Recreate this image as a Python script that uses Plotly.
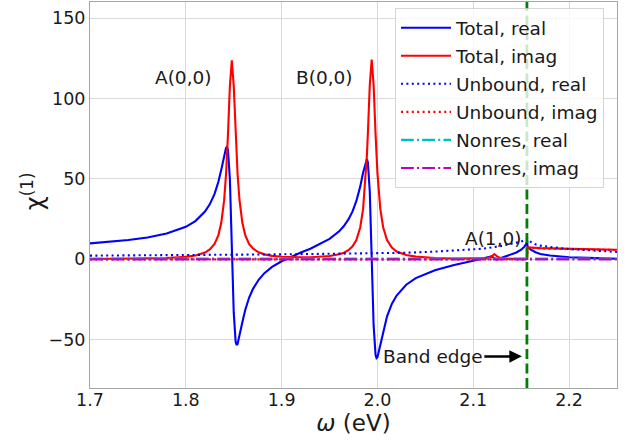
import plotly.graph_objects as go

# ---------------- data ----------------
omega = [1.700, 1.720, 1.740, 1.760, 1.780, 1.800, 1.810, 1.820, 1.825, 1.830,
         1.834, 1.837, 1.840, 1.842, 1.843, 1.844, 1.846, 1.848, 1.850, 1.852,
         1.853, 1.854, 1.856, 1.859, 1.862, 1.866, 1.870, 1.876, 1.882, 1.890,
         1.900, 1.910, 1.920, 1.930, 1.940, 1.950, 1.960, 1.965, 1.970, 1.974,
         1.978, 1.982, 1.985, 1.988, 1.989, 1.990, 1.992, 1.994, 1.996, 1.998,
         1.999, 2.000, 2.003, 2.006, 2.010, 2.015, 2.020, 2.030, 2.040, 2.060,
         2.080, 2.100, 2.110, 2.115, 2.119, 2.122, 2.125, 2.129, 2.135, 2.140,
         2.145, 2.150, 2.153, 2.1555, 2.1562, 2.1566, 2.160, 2.165, 2.170, 2.180,
         2.190, 2.200, 2.220, 2.250]

total_real = [9.9, 10.8, 12.0, 13.6, 16.0, 20.2, 23.8, 29.7, 34.2, 40.7,
              48.2, 55.7, 64.5, 69.3, 69.9, 67.9, 49.7, 8.3, -33.0, -51.3,
              -53.3, -52.6, -47.9, -39.1, -31.5, -23.9, -18.5, -12.7, -8.6, -4.7,
              -1.2, 1.6, 4.2, 6.6, 9.4, 12.7, 17.4, 20.7, 25.1, 29.8,
              36.3, 45.2, 53.8, 61.6, 62.3, 60.3, 42.0, 0.4, -41.1, -59.4,
              -61.4, -60.8, -53.0, -44.4, -35.4, -27.7, -22.5, -15.8, -11.7, -6.8,
              -3.5, -0.9, 0.3, 1.1, 1.8, 0.8, -0.2, 0.8, 2.2, 3.3,
              4.3, 6.0, 7.6, 9.8, 11.8, 8.0, 6.0, 4.4, 3.3, 2.4,
              1.7, 1.3, 0.9, 0.4]

total_imag = [0.19, 0.25, 0.34, 0.49, 0.79, 1.52, 2.37, 4.23, 6.12, 9.63,
              15.1, 22.7, 36.8, 53.1, 64.4, 77.8, 107.8, 123.7, 107.9, 77.8,
              64.4, 53.2, 36.9, 22.7, 15.1, 9.6, 6.75, 4.36, 3.09, 2.17,
              1.60, 1.34, 1.25, 1.31, 1.53, 2.03, 3.10, 4.11, 5.79, 8.07,
              12.05, 19.8, 31.2, 53.4, 64.7, 78.2, 108.4, 124.2, 108.4, 78.2,
              64.7, 53.4, 31.2, 19.8, 12.0, 7.29, 4.89, 2.64, 1.66, 0.84,
              0.52, 0.40, 0.47, 0.75, 1.77, 3.27, 1.77, 0.72, 0.38, 0.30,
              0.28, 0.27, 0.26, 0.26, 0.26, 7.5, 7.3, 7.15, 7.0, 6.8,
              6.65, 6.5, 6.3, 6.0]

unbound_real_x = [1.70, 1.75, 1.80, 1.85, 1.90, 1.95, 2.00, 2.03, 2.06, 2.09,
                  2.11, 2.13, 2.14, 2.15, 2.153, 2.1555, 2.1565, 2.16, 2.165, 2.17,
                  2.18, 2.19, 2.20, 2.22, 2.25]
unbound_real = [2.3, 2.4, 2.6, 2.85, 3.1, 3.45, 3.8, 4.1, 4.8, 5.7,
                6.6, 8.4, 9.6, 11.0, 11.8, 12.6, 13.0, 10.8, 9.3, 8.5,
                7.6, 7.0, 6.4, 5.5, 4.6]

unbound_imag_x = [1.70, 2.1562, 2.1566, 2.16, 2.17, 2.18, 2.20, 2.22, 2.25]
unbound_imag = [0.0, 0.0, 7.2, 7.0, 6.8, 6.6, 6.3, 6.1, 5.8]

nonres_x = [1.70, 2.25]
nonres_real = [0.5, 0.5]
nonres_imag = [0.0, 0.0]

band_edge = 2.156

x_ticks = [1.7, 1.8, 1.9, 2.0, 2.1, 2.2]
y_ticks = [-50, 0, 50, 100, 150]

peak_labels = ["A(0,0)", "B(0,0)", "A(1,0)"]
peak_label_x = [1.798, 1.9443, 2.1208]
peak_label_y = [113.2, 113.2, 13.0]

# ---------------- figure ----------------
FONT = "DejaVu Sans"
TXT = "#1a1a1a"

fig = go.Figure()

def add(x, y, name, color, dash):
    fig.add_trace(go.Scatter(
        x=x, y=y, mode="lines", name=name, legendgroup=name,
        line=dict(color=color, width=2.1, dash=dash)))

add(omega, total_real, "Total, real", "#0000ff", "solid")
add(omega, total_imag, "Total, imag", "#ff0000", "solid")
add(unbound_real_x, unbound_real, "Unbound, real", "#0000ff", "2px,3.4px")
add(unbound_imag_x, unbound_imag, "Unbound, imag", "#ff0000", "2px,3.4px")
add(nonres_x, nonres_real, "Nonres, real", "#00bfbf", "12.8px,3.2px,2px,3.2px")
add(nonres_x, nonres_imag, "Nonres, imag", "#bf00bf", "12.8px,3.2px,2px,3.2px")

fig.add_shape(type="line", xref="x", yref="paper", x0=band_edge, x1=band_edge,
              y0=0, y1=1, line=dict(color="#008000", width=2.8, dash="10px,4.5px"),
              layer="above")

for t, lx, ly in zip(peak_labels, peak_label_x, peak_label_y):
    fig.add_annotation(x=lx, y=ly, text=t, showarrow=False,
                       font=dict(family=FONT, size=18.5, color=TXT))

fig.add_annotation(x=2.1507, y=-60.3, ax=2.0578, ay=-60.7, axref="x", ayref="y",
                   text="Band edge", showarrow=True, arrowhead=2, arrowsize=1,
                   arrowwidth=2.5, arrowcolor="black", standoff=0,
                   font=dict(family=FONT, size=18.5, color=TXT))

# y-axis title placed precisely (rotated text)
fig.add_annotation(xref="paper", yref="paper", x=(33 - 90) / 527, y=0.51,
                   xanchor="center", yanchor="middle", textangle=-90,
                   text="χ<sup>(1)</sup>", showarrow=False,
                   font=dict(family=FONT, size=24, color=TXT))

axis_common = dict(showgrid=True, gridcolor="#d9d9d9", gridwidth=1,
                   showline=True, linecolor="#a6a6a6", linewidth=1, mirror=True,
                   ticks="", zeroline=False,
                   tickfont=dict(family=FONT, size=17.5, color=TXT))

fig.update_layout(
    width=637, height=441,
    margin=dict(l=90, r=20, t=2, b=53),
    paper_bgcolor="white", plot_bgcolor="white",
    font=dict(family=FONT, color=TXT),
    showlegend=True,
    legend=dict(x=(395 - 90) / 527, xanchor="left", y=0.984, yanchor="top",
                bgcolor="rgba(255,255,255,0.8)", bordercolor="rgba(204,204,204,0.8)",
                borderwidth=1, font=dict(family=FONT, size=18.5, color=TXT),
                itemwidth=50, tracegroupgap=1),
    xaxis=dict(range=[1.7, 2.25], tickvals=x_ticks, tickformat=".1f",
               ticklabelstandoff=-4,
               title=dict(text="<i>ω</i> (eV)", font=dict(family=FONT, size=23, color=TXT),
                          standoff=2),
               **axis_common),
    yaxis=dict(range=[-80, 160], tickvals=y_ticks, **axis_common),
)

fig.write_html("out.html", config={"displayModeBar": False},
               post_script="document.body.style.margin='0px';")
